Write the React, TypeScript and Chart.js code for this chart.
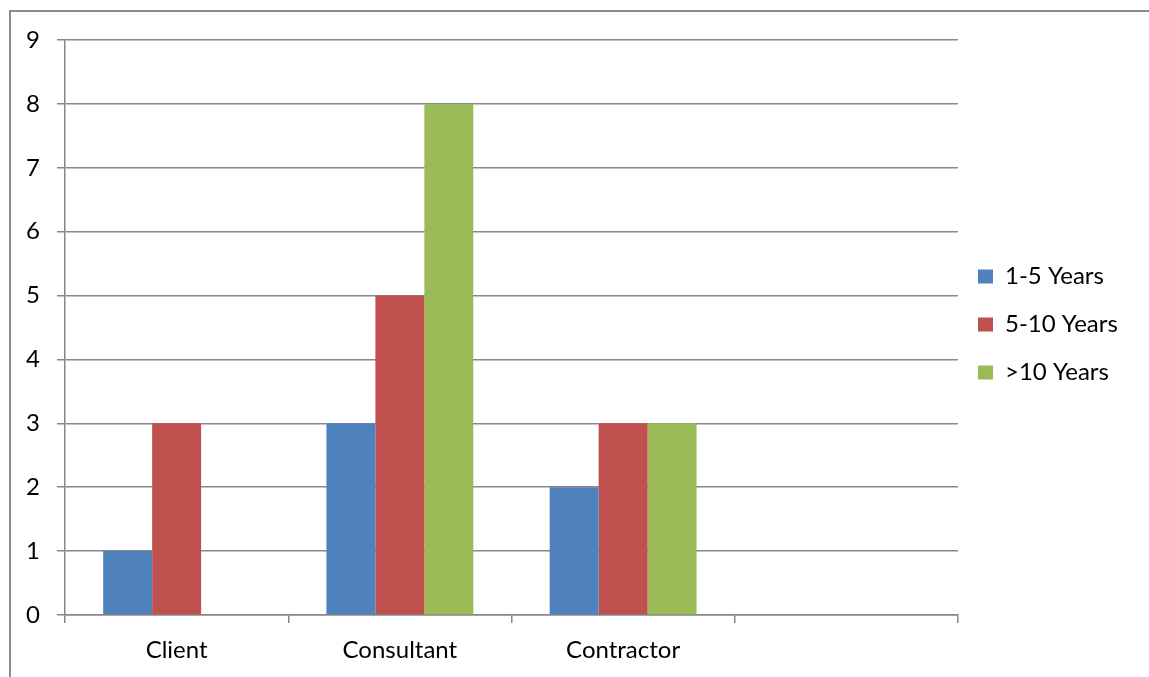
import React, { useEffect, useRef } from 'react';
import { Chart, registerables } from 'chart.js';

Chart.register(...registerables);

const categories = ['Client', 'Consultant', 'Contractor', ''];
const seriesLabels = ['1-5 Years', '5-10 Years', '>10 Years'];
const years1to5 = [1, 3, 2, null];
const years5to10 = [3, 5, 3, null];
const yearsOver10 = [0, 8, 3, null];
const seriesColors = ['#4f81bd', '#c0504d', '#9bbb59'];
const yMin = 0;
const yMax = 9;
const yStep = 1;

const FONT = 'Lato';
const FONT_SIZE = 24;
const GRID = '#888888';
const W = 1149;
const H = 677;
const PLOT_RIGHT = 958;
const LEGEND_PAD = 24;
const BOX_W = 15;

const legendPlace = {
  id: 'legendPlace',
  afterLayout(chart: any) {
    const lg = chart.legend;
    const ca = chart.chartArea;
    if (!lg || !ca) return;
    const w = lg.width;
    lg.left = ca.right - 4;
    lg.right = lg.left + w;
    lg.top = ca.top - 3;
    lg.bottom = ca.bottom - 3;
    lg.height = lg.bottom - lg.top;
  },
};

export default function App() {
  const ref = useRef<HTMLCanvasElement | null>(null);

  useEffect(() => {
    if (!ref.current) return;
    const m = document.createElement('canvas').getContext('2d')!;
    m.font = `${FONT_SIZE}px ${FONT}`;
    const maxText = Math.max(...seriesLabels.map((t) => m.measureText(t).width));
    const legendW = LEGEND_PAD + BOX_W + FONT_SIZE / 2 + maxText + 10;
    const padRight = Math.max(0, W - PLOT_RIGHT - legendW);

    const values = [years1to5, years5to10, yearsOver10];
    const chart = new Chart(ref.current, {
      type: 'bar',
      data: {
        labels: categories,
        datasets: seriesLabels.map((label, i) => ({
          label,
          data: values[i],
          backgroundColor: seriesColors[i],
          borderWidth: 0,
          categoryPercentage: 0.658,
          barPercentage: 1,
        })),
      },
      options: {
        animation: false,
        responsive: false,
        maintainAspectRatio: false,
        layout: { padding: { top: 40, left: 0, bottom: 0, right: padRight } },
        plugins: {
          tooltip: { enabled: false },
          legend: {
            position: 'right',
            labels: {
              boxWidth: BOX_W,
              boxHeight: 14,
              padding: LEGEND_PAD,
              color: '#000',
              font: { family: FONT, size: FONT_SIZE },
            },
          },
        },
        scales: {
          x: {
            offset: true,
            afterFit: (s: any) => {
              s.height = 62;
            },
            grid: {
              offset: true,
              drawOnChartArea: false,
              drawTicks: true,
              tickLength: 8,
              color: GRID,
              lineWidth: 1.5,
            },
            border: { color: GRID, width: 1.5 },
            ticks: {
              color: '#000',
              padding: 13,
              font: { family: FONT, size: FONT_SIZE },
            },
          },
          y: {
            min: yMin,
            max: yMax,
            afterFit: (s: any) => {
              s.width = 65;
            },
            grid: {
              color: GRID,
              lineWidth: 1.5,
              tickLength: 8,
              drawTicks: true,
            },
            border: { color: GRID, width: 1.5 },
            ticks: {
              stepSize: yStep,
              color: '#000',
              padding: 17,
              font: { family: FONT, size: FONT_SIZE },
            },
          },
        },
      },
      plugins: [legendPlace],
    });
    return () => chart.destroy();
  }, []);

  return (
    <div style={{ position: 'fixed', left: 0, top: 0, width: W, height: H, background: '#fff', overflow: 'hidden' }}>
      <div
        style={{
          position: 'absolute',
          left: 9,
          top: 10,
          width: W - 9,
          height: H - 10,
          borderTop: '2px solid #8c8c8c',
          borderLeft: '2px solid #8c8c8c',
          boxSizing: 'border-box',
        }}
      />
      <canvas ref={ref} width={W} height={H} style={{ position: 'absolute', left: 0, top: 0 }} />
    </div>
  );
}
